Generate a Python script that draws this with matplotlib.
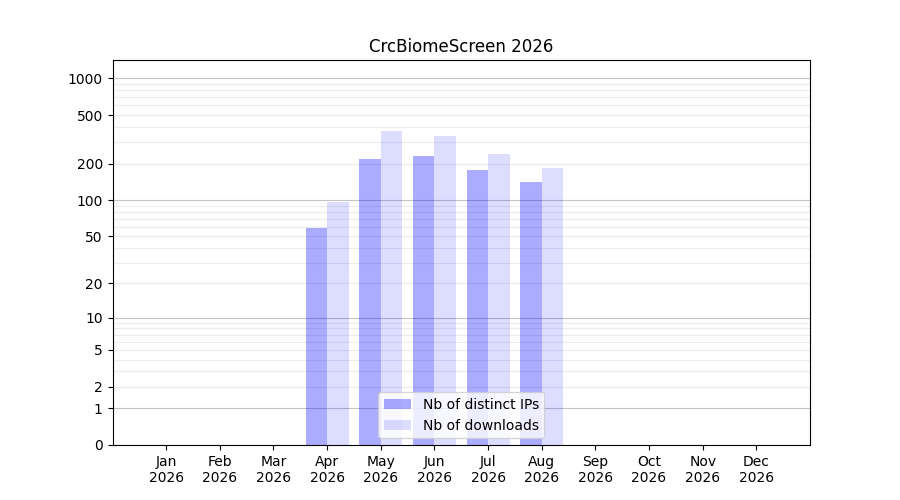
import numpy as np
import matplotlib
matplotlib.use('Agg')
import matplotlib.pyplot as plt

months = ['Jan', 'Feb', 'Mar', 'Apr', 'May', 'Jun', 'Jul', 'Aug', 'Sep', 'Oct', 'Nov', 'Dec']
year = 2026
ips = [0, 0, 0, 59, 218, 231, 177, 141, 0, 0, 0, 0]
downloads = [0, 0, 0, 96, 370, 337, 240, 184, 0, 0, 0, 0]
yticks = [0, 1, 2, 5, 10, 20, 50, 100, 200, 500, 1000]


def fwd(y):
    return np.log10(1 + np.clip(y, 0, None))


def inv(y):
    return 10 ** y - 1


fig, ax = plt.subplots(figsize=(9, 5), dpi=100)
ax.set_yscale('function', functions=(fwd, inv))

x = np.arange(len(months))
ax.bar(x - 0.2, ips, width=0.4, color='blue', alpha=0.33, label='Nb of distinct IPs', zorder=2)
ax.bar(x + 0.2, downloads, width=0.4, color='blue', alpha=0.135, label='Nb of downloads', zorder=2)

# grid: decades darker, the rest lighter
for d in [1, 10, 100, 1000]:
    ax.axhline(d, color='#c4c4c4', lw=0.8, zorder=1)
    if d < 1000:
        for k in range(2, 10):
            ax.axhline(d * k, color='#ececec', lw=0.8, zorder=1)

ax.set_yticks(yticks)
ax.set_yticklabels([str(v) for v in yticks])
ax.set_ylim(0, 1412)
ax.set_xlim(-1, 12)
ax.set_xticks(x)
ax.set_xticklabels(['{}\n{}'.format(m, year) for m in months])
ax.set_title('CrcBiomeScreen {}'.format(year))
ax.legend(loc='lower center')

plt.savefig('out.png')
